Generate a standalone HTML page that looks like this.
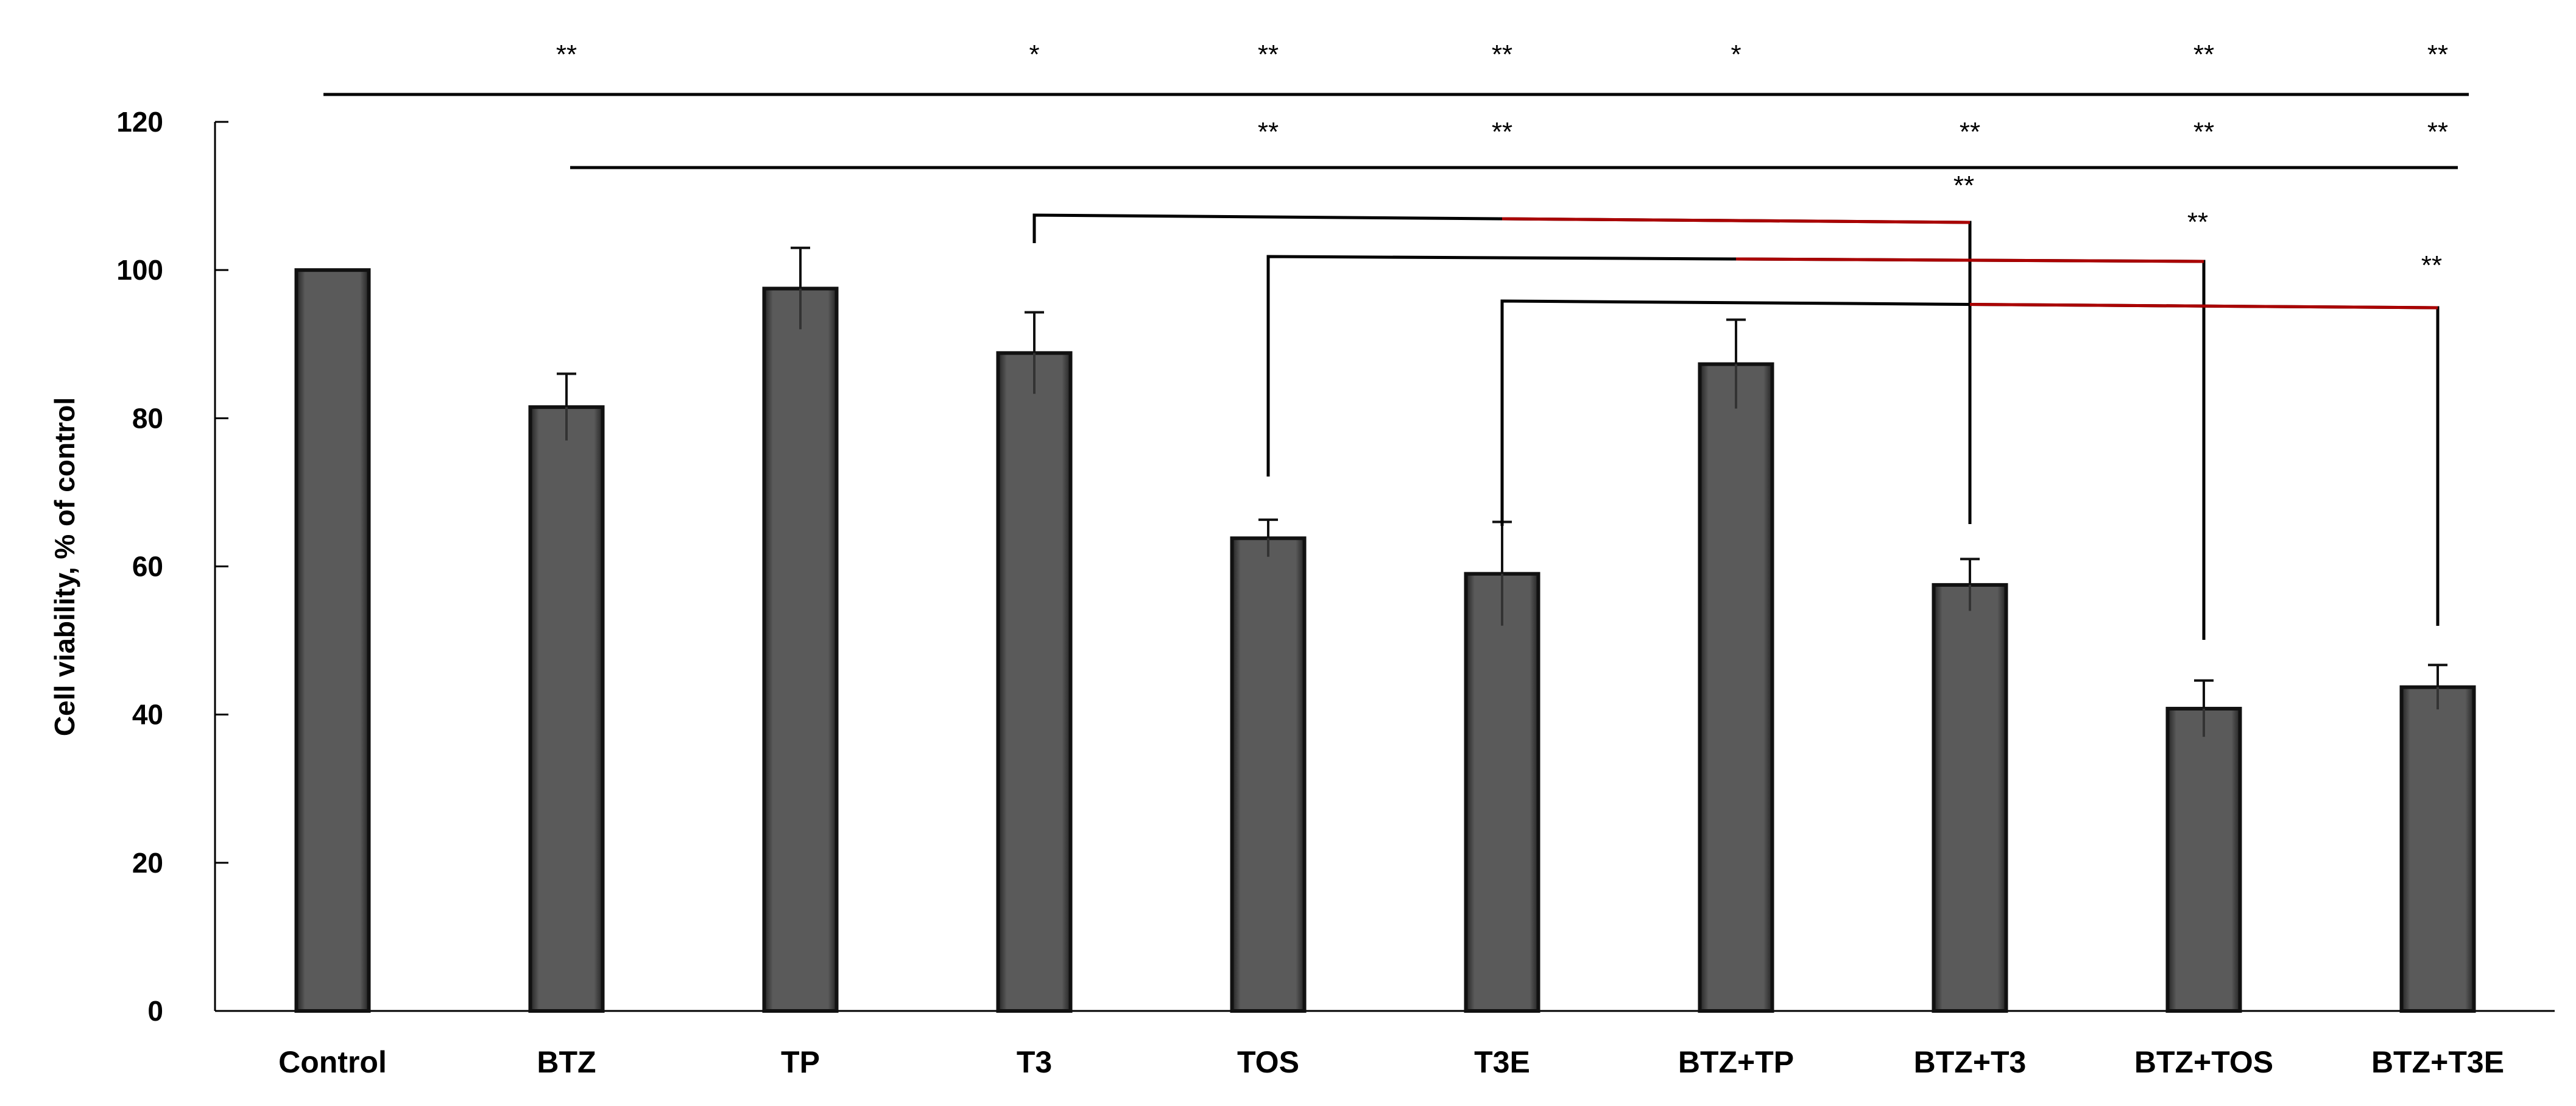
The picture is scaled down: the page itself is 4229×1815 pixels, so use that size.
<!DOCTYPE html>
<html><head><meta charset="utf-8"><style>html,body{margin:0;padding:0;background:#fff}svg{display:block}text{font-family:"Liberation Sans",sans-serif}</style></head>
<body>
<svg id="chart" width="4229" height="1815" viewBox="0 0 4229 1815" xmlns="http://www.w3.org/2000/svg">
<defs><linearGradient id="bg" x1="0" x2="1"><stop offset="0" stop-color="#222"/><stop offset="0.12" stop-color="#5a5a5a"/><stop offset="0.88" stop-color="#5a5a5a"/><stop offset="1" stop-color="#222"/></linearGradient></defs>
<g id="axes"></g><g id="bars"></g><g id="sig"></g>
</svg>
<script>
const categories = ["Control","BTZ","TP","T3","TOS","T3E","BTZ+TP","BTZ+T3","BTZ+TOS","BTZ+T3E"];
const values = [100,81.5,97.5,88.8,63.8,59,87.3,57.5,40.8,43.7];
const errors = [0,4.5,5.5,5.5,2.5,7,6,3.5,3.8,3];
const yTicks = [0,20,40,60,80,100,120];
const row1Stars = ["","**","","*","**","**","*","","**","**"];
const row2Stars = ["","","","","**","**","","**","**","**"];
const NS="http://www.w3.org/2000/svg";
const X0=546, STEP=384, BW=119, Y0=1659, PX=1459/120;
const x=i=>X0+i*STEP, y=v=>Y0-v*PX;
function mk(p,tag,a,t){const e=document.createElementNS(NS,tag);for(const k in a)e.setAttribute(k,a[k]);if(t!==undefined)e.textContent=t;p.appendChild(e);return e;}
const ax=document.getElementById('axes'), bars=document.getElementById('bars'), sig=document.getElementById('sig');
let e=mk(ax,'line',{x1:353,y1:y(120),x2:353,y2:Y0,stroke:'#000','stroke-width':3});


e=mk(ax,'line',{x1:353,y1:Y0,x2:4194,y2:Y0,stroke:'#000','stroke-width':3});


yTicks.forEach(t=>{
  mk(ax,'line',{x1:353,y1:y(t),x2:375,y2:y(t),stroke:'#000','stroke-width':3});
  e=mk(ax,'text',{x:268,y:y(t)+16,'text-anchor':'end','font-size':46,'font-weight':'bold'},t);
  
  
});
e=mk(ax,'text',{x:0,y:0,transform:'translate(122,930) rotate(-90)','text-anchor':'middle','font-size':46,'font-weight':'bold'},'Cell viability,  % of control');


categories.forEach((c,i)=>{
  e=mk(ax,'text',{x:x(i),y:1760,'text-anchor':'middle','font-size':50,'font-weight':'bold'},c);
  
  
  e=mk(bars,'rect',{x:x(i)-BW/2,y:y(values[i]),width:BW,height:Y0-y(values[i]),fill:'url(#bg)',stroke:'#111','stroke-width':6});
  
  
  if(errors[i]>0){
    const g=mk(bars,'g',{stroke:'#111','stroke-width':4});
    
    
    mk(g,'line',{x1:x(i),y1:y(values[i]+errors[i]),x2:x(i),y2:y(values[i])});
    mk(g,'line',{x1:x(i),y1:y(values[i]),x2:x(i),y2:y(values[i]-errors[i]),stroke:'#333'});
    mk(g,'line',{x1:x(i)-16,y1:y(values[i]+errors[i]),x2:x(i)+16,y2:y(values[i]+errors[i])});
  }
  if(row1Stars[i]){e=mk(sig,'text',{x:x(i),y:104,'text-anchor':'middle','font-size':44},row1Stars[i]);
    
    }
  if(row2Stars[i]){e=mk(sig,'text',{x:x(i),y:231,'text-anchor':'middle','font-size':44},row2Stars[i]);
    
    }
});
e=mk(sig,'line',{x1:531,y1:155,x2:4053,y2:155,stroke:'#000','stroke-width':5});


e=mk(sig,'line',{x1:936,y1:275,x2:4035,y2:275,stroke:'#000','stroke-width':5});


const brackets=[[3,7,353,365,399,860,301],[4,8,421,429,782,1050,361],[5,9,494,505,863,1027,432]];
brackets.forEach(b=>{
  const g=mk(sig,'g',{fill:'none','stroke-width':5});
  
  
  mk(g,'polyline',{points:`${x(b[0])},${b[4]} ${x(b[0])},${b[2]} ${x(b[1])},${b[3]} ${x(b[1])},${b[5]}`,stroke:'#000'});
  mk(g,'line',{x1:(x(b[0])+x(b[1]))/2,y1:(b[2]+b[3])/2,x2:x(b[1]),y2:b[3],stroke:'#a00','stroke-width':5});
  e=mk(sig,'text',{x:x(b[1])-10,y:b[6]+18,'text-anchor':'middle','font-size':44},'**');
  
  
});
</script>
</body></html>
